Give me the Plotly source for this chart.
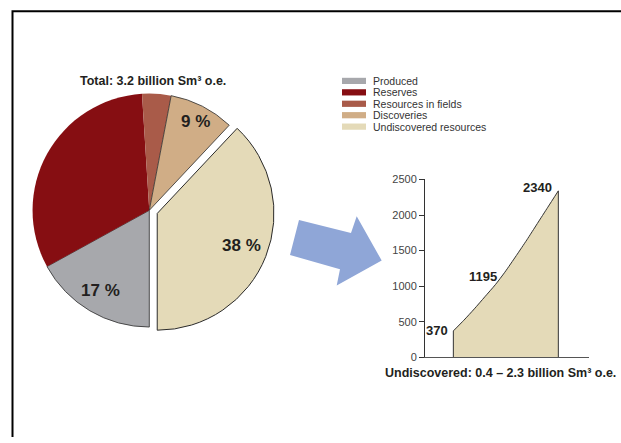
import math
import plotly.graph_objects as go

# Resource categories and their share of the total (percent)
categories = ["Produced", "Reserves", "Resources in fields", "Discoveries", "Undiscovered resources"]
shares = [17, 32, 4, 9, 38]
show_share = [True, False, False, True, True]
colors = ["#a7a8ac", "#860e12", "#a95b49", "#d0ad86", "#e4dab8"]

# Uncertainty curve for undiscovered resources (million Sm3 o.e.)
curve_x = [0, 10, 20, 30, 40, 49, 60, 70, 80, 90, 100]
curve_y = [370, 520, 680, 850, 1020, 1195, 1430, 1650, 1880, 2110, 2340]
marked_x = [0, 49, 100]
marked_y = [370, 1195, 2340]
y_ticks = [0, 500, 1000, 1500, 2000, 2500]

W, H = 621, 443
BOLD = "Liberation Sans, Arial, sans-serif"
TEXT = "#231f20"

# Pie geometry (pixels)
PIE_CX, PIE_CY, PIE_R = 149.3, 210.0, 120.0
ROTATION = 180
PULL = [0, 0, 0, 0, 0.073]
LABEL_RADIUS = [0.80, 0, 0, 0.85, 0.75]


def px(x):
    return x / W


def py(y):
    return 1 - y / H


fig = go.Figure()

half = PIE_R * (1 + max(PULL))
fig.add_trace(go.Pie(
    labels=categories,
    values=shares,
    textinfo="none",
    sort=False,
    direction="clockwise",
    rotation=ROTATION,
    pull=PULL,
    marker=dict(colors=colors, line=dict(color="#2b2b2b", width=[0.8, 0, 0, 0.8, 1.0])),
    domain=dict(x=[px(PIE_CX - half), px(PIE_CX + half)], y=[py(PIE_CY + half), py(PIE_CY - half)]),
    showlegend=False,
    hoverinfo="label+value",
))

# Filled uncertainty profile with a smooth upper edge
fig.add_trace(go.Scatter(
    x=curve_x,
    y=curve_y,
    mode="lines",
    fill="tozeroy",
    fillcolor=colors[-1],
    line=dict(color="#333333", width=1, shape="spline", smoothing=0.6),
    showlegend=False,
    hoverinfo="skip",
))
# Vertical end edges of the profile
fig.add_trace(go.Scatter(
    x=[curve_x[0], curve_x[0], None, curve_x[-1], curve_x[-1]],
    y=[0, curve_y[0], None, curve_y[-1], 0],
    mode="lines",
    line=dict(color="#333333", width=1),
    showlegend=False,
    hoverinfo="skip",
))

annotations = [
    dict(text="Total: 3.2 billion Sm³ o.e.", x=px(153), y=py(77), xref="paper", yref="paper",
         showarrow=False, xanchor="center", yanchor="middle",
         font=dict(family=BOLD, size=12.5, color=TEXT, weight="bold")),
    dict(text="Undiscovered: 0.4 – 2.3 billion Sm³ o.e.", x=px(500.5), y=py(377), xref="paper", yref="paper",
         showarrow=False, xanchor="center", yanchor="middle",
         font=dict(family=BOLD, size=12.5, color=TEXT, weight="bold")),
]

# Percentage labels placed along each slice's bisector
total = sum(shares)
cum = 0.0
for v, show, pull, rf in zip(shares, show_share, PULL, LABEL_RADIUS):
    a0 = ROTATION + 360 * cum / total
    cum += v
    a1 = ROTATION + 360 * cum / total
    mid = math.radians((a0 + a1) / 2)
    if not show:
        continue
    dist = PIE_R * (pull + rf)
    lx = PIE_CX + dist * math.sin(mid)
    ly = PIE_CY - dist * math.cos(mid)
    annotations.append(dict(text=f"{v} %", x=px(lx), y=py(ly), xref="paper", yref="paper",
                            showarrow=False, xanchor="center", yanchor="middle",
                            font=dict(family=BOLD, size=17, color=TEXT, weight="bold")))

# Value labels on the curve
offsets = [(-3, 0), (-6, -4), (-4, 3)]
for (mx, my), (dx, dy) in zip(zip(marked_x, marked_y), offsets):
    annotations.append(dict(
        text=str(my), x=mx, y=my, xref="x", yref="y", showarrow=False,
        xanchor="right", yanchor="middle", xshift=dx, yshift=dy,
        font=dict(family=BOLD, size=13, color=TEXT, weight="bold"),
    ))

shapes = []
# Legend drawn as compact swatches
for i, (name, col) in enumerate(zip(categories, colors)):
    yc = 77 + 11.75 * i
    shapes.append(dict(type="rect", xref="paper", yref="paper",
                       x0=px(342), x1=px(366), y0=py(yc + 3.2), y1=py(yc - 3.2),
                       fillcolor=col, line=dict(width=0)))
    annotations.append(dict(text=name, x=px(370.5), y=py(yc), xref="paper", yref="paper",
                            showarrow=False, xanchor="left", yanchor="middle",
                            font=dict(family="Liberation Sans, Arial, sans-serif", size=10.5, color="#333333")))

# Arrow linking the pie to the profile
arrow_pts = [(299, 220), (351, 233.3), (356.7, 216), (381.7, 261.7), (336.7, 287.3), (340, 270.7), (290, 256)]
path = "M " + " L ".join(f"{px(x):.5f},{py(y):.5f}" for x, y in arrow_pts) + " Z"
shapes.append(dict(type="path", xref="paper", yref="paper", path=path,
                   fillcolor="#8fa6d7", line=dict(width=0), layer="below"))

# Frame on the top and left
shapes.append(dict(type="path", xref="paper", yref="paper",
                   path=f"M {px(12.5)},{py(443)} L {px(12.5)},{py(5.5)} L {px(621)},{py(5.5)}",
                   line=dict(color="black", width=2)))

fig.update_layout(
    width=W, height=H,
    margin=dict(l=0, r=0, t=0, b=0),
    paper_bgcolor="white", plot_bgcolor="white",
    xaxis=dict(domain=[px(425), px(589.3)], range=[-27, 129.5], showline=True, linecolor="#555555",
               linewidth=1, showticklabels=False, ticks="", showgrid=False, zeroline=False, fixedrange=True),
    yaxis=dict(domain=[py(361), py(178.3)], range=[0, 2500], tickvals=y_ticks, showline=True,
               linecolor="#333333", linewidth=1, ticks="outside", ticklen=5, tickcolor="#333333",
               showgrid=False, zeroline=False, fixedrange=True,
               tickfont=dict(family="Liberation Sans, Arial, sans-serif", size=11, color="#444444")),
    annotations=annotations,
    shapes=shapes,
)

fig.write_html("out.html")
